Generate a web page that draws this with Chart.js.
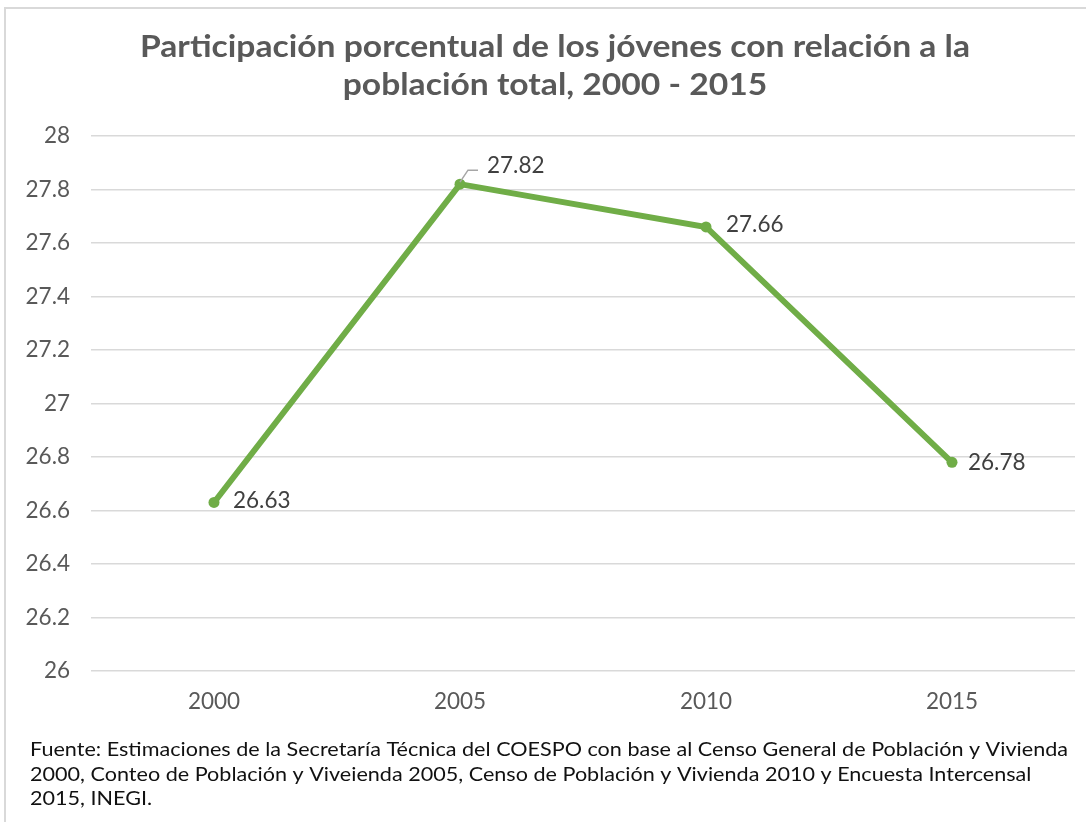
<!DOCTYPE html>
<html>
<head>
<meta charset="utf-8">
<script src="https://cdn.jsdelivr.net/npm/chart.js@4.4.1/dist/chart.umd.min.js"></script>
<style>
  html, body { margin: 0; padding: 0; background: #ffffff; }
  #wrap { position: relative; width: 1086px; height: 822px; overflow: hidden; }
</style>
</head>
<body>
<div id="wrap"><canvas id="c" width="1086" height="822"></canvas></div>
<script>
const categories = ['2000', '2005', '2010', '2015'];
const values = [26.63, 27.82, 27.66, 26.78];
const yMin = 26;
const yMax = 28;
const yStep = 0.2;
const titleLines = [
  'Participación porcentual de los jóvenes con relación a la',
  'población total, 2000 - 2015'
];
const footerLines = [
  'Fuente: Estimaciones de la Secretaría Técnica del COESPO con base al Censo General de Población y Vivienda',
  '2000, Conteo de Población y Viveienda 2005, Censo de Población y Vivienda 2010 y Encuesta Intercensal',
  '2015, INEGI.'
];

const FONT = 'Lato, "Open Sans", "DejaVu Sans", sans-serif';

const decor = {
  id: 'decor',
  beforeDraw(chart) {
    const ctx = chart.ctx;
    ctx.save();
    ctx.strokeStyle = '#d9d9d9';
    ctx.lineWidth = 2;
    ctx.strokeRect(5, 8, 1200, 1000);
    ctx.restore();
  },
  afterDraw(chart) {
    const ctx = chart.ctx;
    // Title
    ctx.save();
    ctx.fillStyle = '#595959';
    ctx.font = 'bold 30px ' + FONT;
    ctx.textBaseline = 'middle';
    ctx.textAlign = 'left';
    const tw = ctx.measureText(titleLines[0]).width;
    const tsx = 830 / tw;
    titleLines.forEach((line, i) => {
      const w = ctx.measureText(line).width * tsx;
      ctx.save();
      ctx.translate(555 - w / 2, 47 + i * 38);
      ctx.scale(tsx, 1);
      ctx.fillText(line, 0, 0);
      ctx.restore();
    });
    ctx.restore();

    // Data labels
    const meta = chart.getDatasetMeta(0);
    const offs = [[19, -2], [27, -18], [20, -2], [16, 0]];
    ctx.save();
    ctx.fillStyle = '#404040';
    ctx.font = '22.5px ' + FONT;
    ctx.textBaseline = 'middle';
    ctx.textAlign = 'left';
    meta.data.forEach((pt, i) => {
      const o = offs[i];
      ctx.fillText(values[i].toFixed(2), pt.x + o[0], pt.y + o[1]);
    });
    // leader line for 2005
    const p = meta.data[1];
    ctx.strokeStyle = '#a6a6a6';
    ctx.lineWidth = 1.5;
    ctx.beginPath();
    ctx.moveTo(p.x, p.y - 2);
    ctx.lineTo(p.x + 8, p.y - 14);
    ctx.lineTo(p.x + 18, p.y - 14);
    ctx.stroke();
    ctx.restore();

    // Footer
    ctx.save();
    ctx.fillStyle = '#111111';
    ctx.font = '20px ' + FONT;
    ctx.textBaseline = 'middle';
    ctx.textAlign = 'left';
    const fw = ctx.measureText(footerLines[0]).width;
    const fsx = 1038 / fw;
    footerLines.forEach((line, i) => {
      ctx.save();
      ctx.translate(30, 750 + i * 24.5);
      ctx.scale(fsx, 1);
      ctx.fillText(line, 0, 0);
      ctx.restore();
    });
    ctx.restore();
  }
};

new Chart(document.getElementById('c'), {
  type: 'line',
  data: {
    labels: categories,
    datasets: [{
      data: values,
      borderColor: '#70ad47',
      backgroundColor: '#70ad47',
      borderWidth: 6,
      pointRadius: 5.5,
      pointBackgroundColor: '#70ad47',
      pointBorderColor: '#70ad47',
      pointBorderWidth: 0,
      tension: 0,
      fill: false
    }]
  },
  options: {
    responsive: false,
    animation: false,
    events: [],
    layout: { padding: { top: 136, left: 0, right: 11, bottom: 91 } },
    plugins: {
      legend: { display: false },
      title: { display: false },
      tooltip: { enabled: false }
    },
    scales: {
      x: {
        offset: true,
        grid: { display: false, drawTicks: false },
        border: { display: false },
        ticks: { color: '#595959', font: { family: FONT, size: 22.5 }, padding: 17 },
        afterFit(scale) { scale.height = 60; }
      },
      y: {
        min: yMin,
        max: yMax,
        grid: { color: '#d9d9d9', lineWidth: 1.5, drawTicks: false },
        border: { display: false },
        ticks: {
          stepSize: yStep,
          color: '#595959',
          font: { family: FONT, size: 22.5 },
          padding: 21,
          callback: (v) => String(Number(v.toFixed(1)))
        },
        afterFit(scale) { scale.width = 91; }
      }
    }
  },
  plugins: [decor]
});
</script>
</body>
</html>
